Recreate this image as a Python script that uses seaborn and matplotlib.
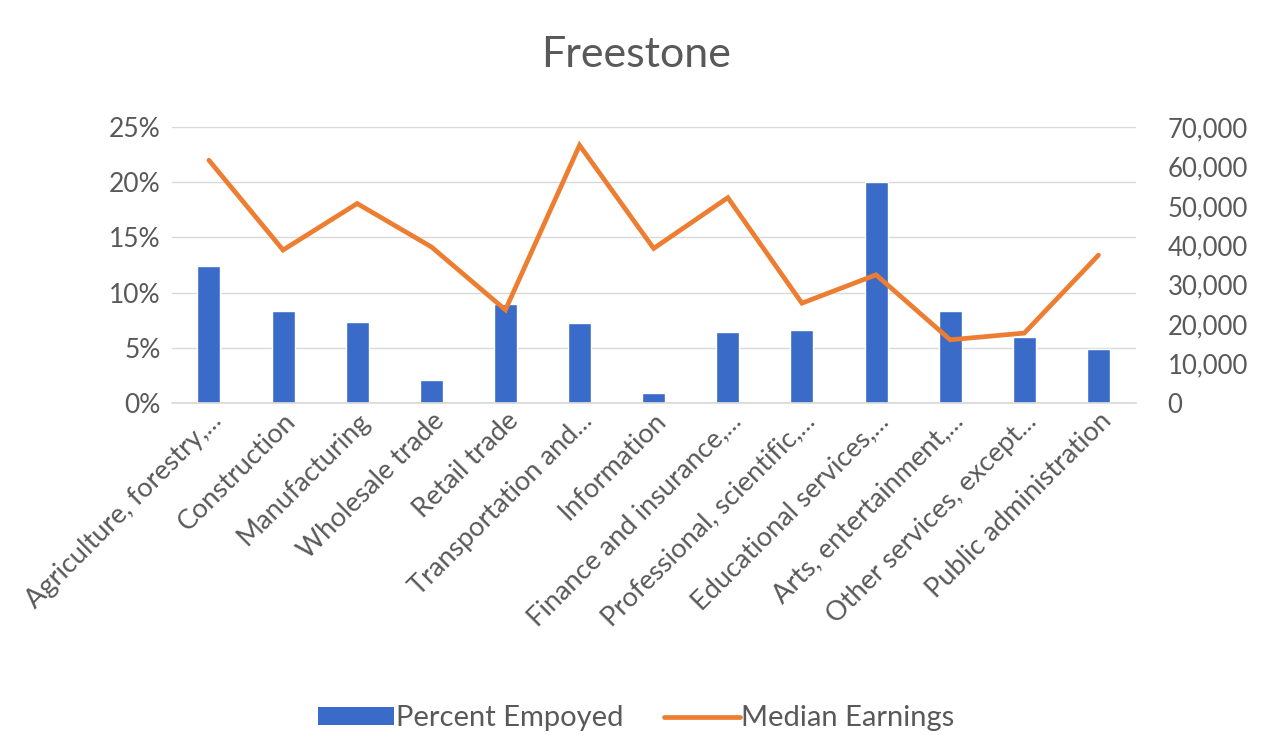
import matplotlib
matplotlib.use("Agg")
import matplotlib.pyplot as plt
import seaborn as sns
import pandas as pd
from matplotlib.ticker import FuncFormatter, MultipleLocator
from matplotlib.patches import Patch
from matplotlib.lines import Line2D

categories = [
    "Agriculture, forestry,...", "Construction", "Manufacturing", "Wholesale trade",
    "Retail trade", "Transportation and...", "Information", "Finance and insurance,...",
    "Professional, scientific,...", "Educational services,...", "Arts, entertainment,...",
    "Other services, except...", "Public administration",
]
percent_employed = [12.4, 8.3, 7.3, 2.1, 9.0, 7.2, 0.9, 6.4, 6.6, 20.0, 8.3, 6.0, 4.9]
median_earnings = [61600, 38800, 50600, 39600, 23600, 65400, 39200, 52100, 25300, 32500, 16000, 17700, 37500]

title = "Freestone"
bar_label = "Percent Empoyed"
line_label = "Median Earnings"

sns.set_theme(style="white")
plt.rcParams["font.family"] = ["Lato", "DejaVu Sans"]

BLUE = "#3A6BC8"
ORANGE = "#ED7D31"
GREY = "#595959"

df = pd.DataFrame({"cat": categories, "pct": [p / 100 for p in percent_employed],
                   "earn": median_earnings})

fig = plt.figure(figsize=(12.73, 7.35), dpi=100)
ax = fig.add_axes([0.135, 0.452, 0.757, 0.375])

sns.barplot(data=df, x="cat", y="pct", color=BLUE, width=0.31, ax=ax, saturation=1)
ax.set_ylim(0, 0.25)
ax.yaxis.set_major_locator(MultipleLocator(0.05))
ax.yaxis.set_major_formatter(FuncFormatter(lambda v, p: f"{v*100:.0f}%"))
ax.grid(axis="y", color="#D9D9D9", linewidth=1)
ax.set_axisbelow(True)
ax.set_xlabel("")
ax.set_ylabel("")
for s in ["top", "left", "right"]:
    ax.spines[s].set_visible(False)
ax.spines["bottom"].set_color("#D9D9D9")
ax.tick_params(axis="y", labelsize=19, labelcolor=GREY, length=0, pad=8)
ax.tick_params(axis="x", labelsize=19.5, labelcolor=GREY, length=0, pad=4)
plt.setp(ax.get_xticklabels(), rotation=45, ha="right", rotation_mode="anchor")
ax.set_xlim(-0.5, len(categories) - 0.5)

ax2 = ax.twinx()
sns.lineplot(x=list(range(len(categories))), y=median_earnings, color=ORANGE,
             linewidth=3.4, ax=ax2, solid_joinstyle="miter")
ax2.set_ylim(0, 70000)
ax2.yaxis.set_major_locator(MultipleLocator(10000))
ax2.yaxis.set_major_formatter(FuncFormatter(lambda v, p: f"{v:,.0f}"))
ax2.tick_params(axis="y", labelsize=18.5, labelcolor=GREY, length=0, pad=23)
for s in ["top", "left", "right", "bottom"]:
    ax2.spines[s].set_visible(False)
ax2.grid(False)
ax2.set_xlim(-0.5, len(categories) - 0.5)

fig.text(0.5, 0.925, title, ha="center", va="center", fontsize=31, color=GREY)

handles = [Patch(facecolor=BLUE, edgecolor="none"),
           Line2D([0], [0], color=ORANGE, linewidth=3.4)]
fig.legend(handles, [bar_label, line_label], loc="center", bbox_to_anchor=(0.5, 0.023),
           ncol=2, frameon=False, fontsize=21, labelcolor=GREY, handlelength=2.6,
           handleheight=0.55, handletextpad=0.05, columnspacing=1.4)

fig.savefig("out.png", dpi=100)
